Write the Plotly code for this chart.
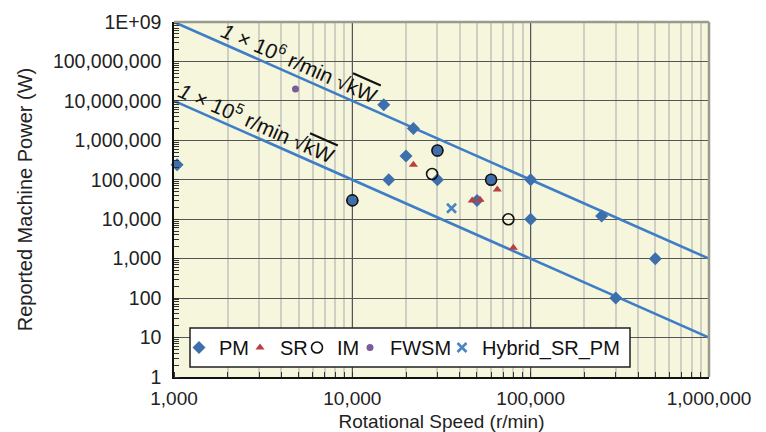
import plotly.graph_objects as go

# ---- data ----
pm_speed = [1040, 15000, 22000, 20000, 16000, 30000, 30000, 10000, 50000, 60000, 100000, 100000, 250000, 500000, 300000]
pm_power = [240000, 8000000, 2000000, 400000, 100000, 550000, 100000, 30000, 30000, 100000, 100000, 10000, 12000, 1000, 100]

sr_speed = [22000, 47000, 52000, 65000, 80000]
sr_power = [240000, 30000, 31000, 57000, 1900]

im_speed = [10000, 30000, 28000, 60000, 75000]
im_power = [30000, 550000, 140000, 100000, 10000]

fwsm_speed = [4800]
fwsm_power = [20000000]

hyb_speed = [36000]
hyb_power = [19000]

# reference lines (speed * sqrt(kW) = const), end points
line_speed = [1000, 1000000]
line_1e6_power = [1e9, 1000]
line_1e5_power = [1e7, 10]

y_tickvals = [1, 10, 100, 1000, 1e4, 1e5, 1e6, 1e7, 1e8, 1e9]
y_ticktext = ["1", "10", "100", "1,000", "10,000", "100,000", "1,000,000",
              "10,000,000", "100,000,000", "1E+09"]
x_tickvals = [1000, 10000, 100000, 1000000]
x_ticktext = ["1,000", "10,000", "100,000", "1,000,000"]

FONT = "Liberation Sans, Arial, sans-serif"
LINE_COLOR = "#3F7EC6"

# page is offset by the 8px body margin; plot area in page: x 174-709, y 22-377
W, H = 758, 424
ML, MT = 166, 14
PW, PH = 535, 355
MR = W - ML - PW
MB = H - MT - PH


def px_x(page_x):
    return (page_x - 174) / PW


def px_y(page_y):
    return (377 - page_y) / PH


fig = go.Figure()

fig.add_trace(go.Scatter(x=line_speed, y=line_1e6_power, mode="lines",
                         line=dict(color=LINE_COLOR, width=2.6), showlegend=False, hoverinfo="skip"))
fig.add_trace(go.Scatter(x=line_speed, y=line_1e5_power, mode="lines",
                         line=dict(color=LINE_COLOR, width=2.6), showlegend=False, hoverinfo="skip"))

fig.add_trace(go.Scatter(x=pm_speed, y=pm_power, mode="markers", name="PM", cliponaxis=False,
                         legend="legend",
                         marker=dict(symbol="diamond", size=10, color="#3E6FAD")))
fig.add_trace(go.Scatter(x=sr_speed, y=sr_power, mode="markers", name="SR", cliponaxis=False,
                         legend="legend2",
                         marker=dict(symbol="triangle-up", size=8, color="#B8403F")))
fig.add_trace(go.Scatter(x=im_speed, y=im_power, mode="markers", name="IM", cliponaxis=False,
                         legend="legend3",
                         marker=dict(symbol="circle-open", size=11, color="#111111",
                                     line=dict(width=1.6, color="#111111"))))
fig.add_trace(go.Scatter(x=fwsm_speed, y=fwsm_power, mode="markers", name="FWSM", cliponaxis=False,
                         legend="legend4",
                         marker=dict(symbol="circle", size=7, color="#7C5A9E")))
fig.add_trace(go.Scatter(x=hyb_speed, y=hyb_power, mode="markers", name="Hybrid_SR_PM", cliponaxis=False,
                         legend="legend5",
                         marker=dict(symbol="x-thin", size=9, color="#4A86C6",
                                     line=dict(width=2.6, color="#4A86C6"))))

ann_font = dict(family=FONT, size=21, color="#111111")
fig.add_annotation(x=3.707, y=7.985, xref="x", yref="y", showarrow=False, textangle=23.8,
                   text="<i>1</i> × 10<sup>6</sup> r/min √<span style='text-decoration:overline'>kW</span>",
                   font=ann_font)
fig.add_annotation(x=3.466, y=6.462, xref="x", yref="y", showarrow=False, textangle=23.8,
                   text="<i>1</i> × 10<sup>5</sup> r/min √<span style='text-decoration:overline'>kW</span>",
                   font=ann_font)

# gray top/right frame
fig.add_shape(type="line", xref="paper", yref="paper", x0=0, x1=1, y0=1, y1=1,
              line=dict(color="#9A9A8E", width=2.5), layer="above")
fig.add_shape(type="line", xref="paper", yref="paper", x0=1, x1=1, y0=0, y1=1,
              line=dict(color="#9A9A8E", width=2.5), layer="above")
# legend frame
fig.add_shape(type="rect", xref="paper", yref="paper",
              x0=px_x(190), x1=px_x(630), y0=px_y(367), y1=px_y(328),
              fillcolor="white", line=dict(color="#222222", width=1.5), layer="above")

leg_font = dict(family=FONT, size=20, color="#111111")
leg_common = dict(orientation="h", yanchor="middle", xanchor="left", y=px_y(347.5),
                  bgcolor="rgba(0,0,0,0)", borderwidth=0, font=leg_font, itemsizing="trace")
legend_lefts = [179, 240, 297, 350, 442]
legend_names = ["legend", "legend2", "legend3", "legend4", "legend5"]
legend_layout = {}
for nm, left in zip(legend_names, legend_lefts):
    legend_layout[nm] = dict(leg_common, x=px_x(left))

fig.update_layout(
    width=W, height=H,
    margin=dict(l=ML, r=MR, t=MT, b=MB),
    paper_bgcolor="white",
    plot_bgcolor="#F5F6DC",
    font=dict(family=FONT, size=19, color="#222222"),
    xaxis=dict(type="log", range=[3, 6], automargin=False,
               tickvals=x_tickvals, ticktext=x_ticktext, ticks="",
               tickfont=dict(size=19), ticklabelstandoff=3,
               showgrid=True, gridcolor="#555555", gridwidth=1,
               showline=True, linecolor="#111111", linewidth=1.5,
               zeroline=False,
               title=dict(text="Rotational Speed (r/min)", standoff=10, font=dict(size=19)),
               minor=dict(dtick="D1", showgrid=True, gridcolor="#CFCFC4", gridwidth=1.5,
                          ticks="inside", ticklen=5, tickcolor="#333333")),
    yaxis=dict(type="log", range=[0, 9], automargin=False,
               tickvals=y_tickvals, ticktext=y_ticktext, ticks="",
               tickfont=dict(size=19.5), ticklabelstandoff=7,
               showgrid=True, gridcolor="#555555", gridwidth=1,
               showline=True, linecolor="#111111", linewidth=1.5,
               zeroline=False,
               title=dict(text="Reported Machine Power (W)", standoff=15, font=dict(size=20)),
               minor=dict(dtick="D1", showgrid=False,
                          ticks="inside", ticklen=5, tickcolor="#333333")),
    **legend_layout,
)

fig.write_html("out.html")
